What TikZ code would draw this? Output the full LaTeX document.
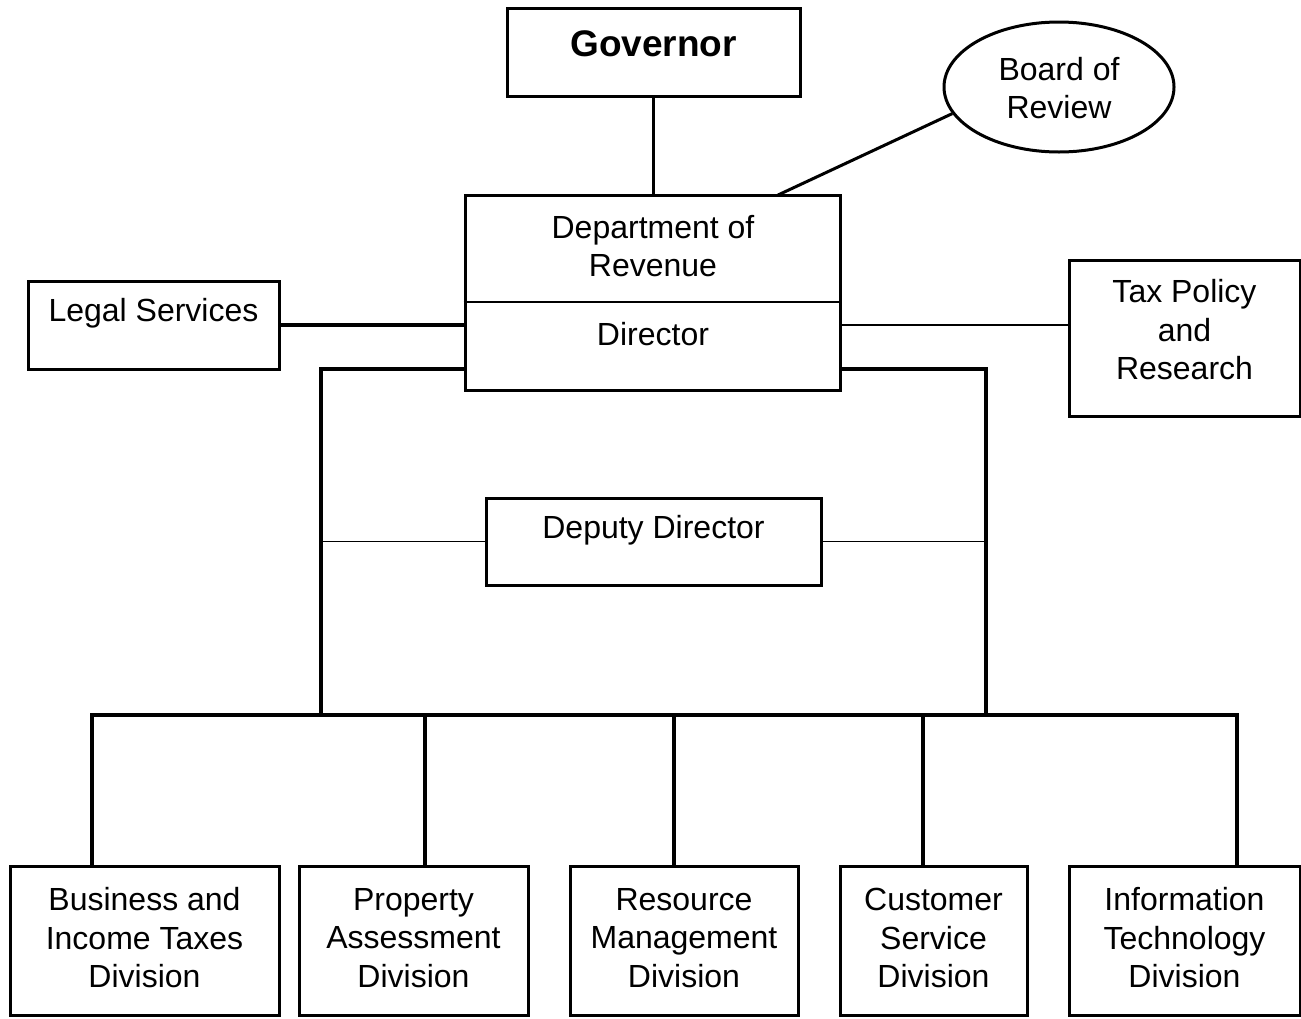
\documentclass[tikz,border=0pt]{standalone}
\usepackage{fontspec}
\setmainfont{Liberation Sans}
\usetikzlibrary{shapes.geometric}
\begin{document}
\begin{tikzpicture}[x=1pt,y=-1pt,
  box/.style={draw, line width=3pt, inner sep=0pt},
  txt/.style={font=\fontsize{32}{38.5}\selectfont, align=center, inner sep=0pt},
  thickline/.style={line width=3.8pt, line cap=rect},
  thinline/.style={line width=1.2pt}]
\useasboundingbox (0,0) rectangle (1301,1018);
% boxes
\node[box, minimum width=293pt, minimum height=88pt] (gov) at (653.5,52) {};
\node[txt, font=\fontsize{37}{42}\selectfont\bfseries] (govt) at (653.5,44) {Governor};
\node[box, ellipse, minimum width=230pt, minimum height=130pt] (board) at (1059,87) {};
\node[txt] (boardt) at (1059,88) {Board of\\Review};
\node[box, minimum width=375pt, minimum height=195pt] (dept) at (652.5,292.5) {};
\node[txt] (deptt) at (653,246) {Department of\\Revenue};
\node[txt] (dirt) at (653,334) {Director};
\node[box, minimum width=251pt, minimum height=88pt] (legal) at (153.5,325) {};
\node[txt] (legalt) at (153.5,313) {Legal Services};
\node[box, minimum width=231pt, minimum height=156pt] (tax) at (1184.5,338) {};
\node[txt] (taxt) at (1184.5,330) {Tax Policy\\and\\Research};
\node[box, minimum width=335pt, minimum height=87pt] (dep) at (653.5,541.5) {};
\node[txt] (dept2) at (653.5,530) {Deputy Director};
\node[box, minimum width=269pt, minimum height=149pt] (b1) at (144.5,941) {};
\node[txt] (b1t) at (144.5,938) {Business and\\Income Taxes\\Division};
\node[box, minimum width=229pt, minimum height=149pt] (b2) at (413.5,941) {};
\node[txt] (b2t) at (413.5,938) {Property\\Assessment\\Division};
\node[box, minimum width=228pt, minimum height=149pt] (b3) at (684,941) {};
\node[txt] (b3t) at (684,938) {Resource\\Management\\Division};
\node[box, minimum width=187pt, minimum height=149pt] (b4) at (933.5,941) {};
\node[txt] (b4t) at (933.5,938) {Customer\\Service\\Division};
\node[box, minimum width=231pt, minimum height=149pt] (b5) at (1184.5,941) {};
\node[txt] (b5t) at (1184.5,938) {Information\\Technology\\Division};
% divider in department box
\coordinate (dv) at (0,302);
\draw[line width=2.5pt] (dept.west |- dv) -- (dept.east |- dv);
% connectors
\draw[line width=3.8pt] (gov.south) -- (gov.south |- dept.north);
\coordinate (bd) at (778,195);
\draw[line width=3pt] (board.194) -- (bd);
\draw[line width=3.8pt] (legal.east) -- (legal.east -| dept.west);
\draw[thinline] (dept.east |- legal.east) -- (tax.west |- legal.east);
\coordinate (lt) at (321,369);
\coordinate (lb) at (321,715);
\coordinate (rt) at (986,369);
\coordinate (rb) at (986,715);
\draw[line width=3.8pt] (lt -| dept.west) -- (lt) -- (lb);
\draw[line width=3.8pt] (rt -| dept.east) -- (rt) -- (rb);
\draw[thinline] (lt |- dep.west) -- (dep.west);
\draw[thinline] (dep.east) -- (rt |- dep.east);
\coordinate (d1) at (92,715);
\coordinate (d2) at (425,715);
\coordinate (d3) at (674,715);
\coordinate (d4) at (923,715);
\coordinate (d5) at (1237,715);
\draw[thickline] (d1) -- (d5);
\draw[line width=3.8pt] (d1) -- (d1 |- b1.north);
\draw[line width=3.8pt] (d2) -- (d2 |- b2.north);
\draw[line width=3.8pt] (d3) -- (d3 |- b3.north);
\draw[line width=3.8pt] (d4) -- (d4 |- b4.north);
\draw[line width=3.8pt] (d5) -- (d5 |- b5.north);
\end{tikzpicture}
\end{document}
